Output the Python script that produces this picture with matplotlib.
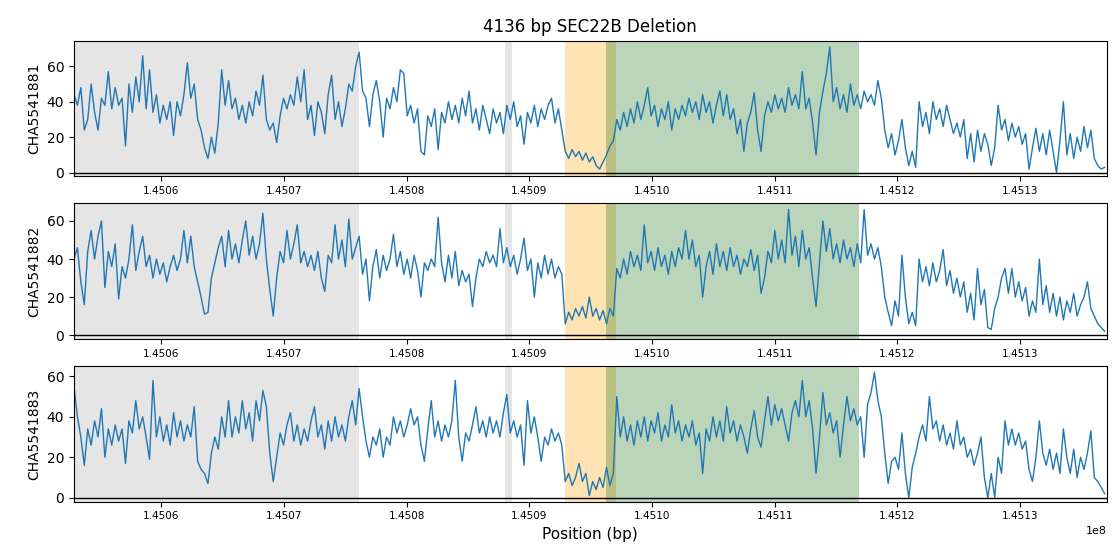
import numpy as np
import matplotlib
matplotlib.use("Agg")
import matplotlib.pyplot as plt

# coverage is binned every 280 bp from the window start
window_start = 145052885
window_end = 145137050
bin_size = 280

samples = ["CHA5541881", "CHA5541882", "CHA5541883"]

depth_1881 = [
    44, 38, 48, 24, 30, 50, 34, 24, 42, 38, 57, 36, 48, 38, 42, 15, 50, 34, 54, 40,
    66, 36, 58, 34, 44, 28, 38, 30, 40, 21, 40, 32, 44, 62, 42, 50, 30, 24, 14, 8,
    20, 11, 28, 58, 38, 52, 36, 42, 30, 38, 28, 40, 32, 46, 38, 55, 30, 24, 28, 17,
    32, 42, 36, 44, 38, 54, 40, 58, 30, 38, 21, 40, 34, 22, 44, 55, 30, 40, 26, 36,
    50, 46, 60, 68, 46, 42, 26, 44, 52, 40, 20, 42, 36, 48, 40, 58, 56, 32, 38, 28,
    36, 12, 10, 32, 26, 36, 13, 34, 28, 40, 30, 38, 28, 42, 32, 46, 28, 36, 24, 38,
    30, 22, 36, 28, 34, 22, 38, 30, 40, 26, 32, 16, 34, 28, 38, 26, 36, 30, 38, 42,
    28, 36, 24, 12, 8, 13, 9, 12, 7, 11, 6, 9, 4, 2, 6, 10, 15, 18, 30, 24,
    34, 26, 36, 28, 40, 30, 38, 48, 32, 38, 26, 36, 30, 40, 24, 36, 30, 38, 32, 42,
    34, 40, 30, 44, 34, 40, 28, 38, 46, 32, 44, 30, 36, 22, 30, 12, 28, 34, 45, 24,
    12, 32, 40, 34, 44, 36, 42, 34, 48, 38, 44, 36, 57, 36, 42, 28, 10, 34, 46, 56,
    71, 40, 48, 36, 44, 34, 50, 38, 44, 36, 46, 40, 44, 38, 52, 42, 24, 14, 22, 10,
    18, 30, 14, 4, 12, 3, 40, 26, 34, 22, 40, 30, 36, 26, 38, 30, 22, 28, 20, 30,
    8, 22, 6, 24, 12, 22, 16, 4, 14, 38, 24, 30, 18, 28, 20, 26, 16, 22, 2, 14,
    25, 12, 22, 10, 24, 12, 0, 18, 40, 10, 22, 8, 20, 12, 26, 14, 24, 8, 4, 2,
    3,
]

depth_1882 = [
    40, 46, 28, 16, 44, 55, 40, 52, 60, 25, 44, 36, 48, 19, 36, 30, 40, 58, 34, 44,
    52, 36, 42, 30, 40, 32, 38, 28, 36, 42, 34, 40, 55, 38, 52, 36, 28, 20, 11, 12,
    30, 38, 46, 52, 36, 55, 40, 48, 38, 50, 60, 42, 52, 40, 48, 64, 40, 24, 10, 30,
    44, 38, 55, 40, 48, 58, 38, 44, 36, 42, 34, 44, 30, 23, 42, 38, 58, 40, 50, 36,
    61, 40, 46, 52, 32, 40, 18, 36, 45, 30, 42, 34, 40, 53, 36, 44, 32, 40, 30, 42,
    34, 20, 38, 34, 40, 36, 62, 38, 28, 42, 30, 44, 26, 34, 28, 32, 15, 30, 40, 36,
    44, 38, 42, 36, 56, 38, 46, 36, 42, 32, 40, 51, 34, 40, 20, 38, 30, 42, 32, 40,
    30, 36, 32, 6, 12, 8, 14, 10, 15, 9, 20, 10, 14, 8, 13, 6, 14, 10, 35, 30,
    40, 32, 44, 36, 42, 34, 58, 38, 44, 34, 46, 36, 42, 32, 44, 36, 46, 40, 55, 40,
    50, 36, 42, 20, 36, 44, 32, 48, 36, 44, 34, 46, 36, 42, 32, 40, 36, 45, 34, 42,
    22, 30, 44, 38, 55, 40, 50, 38, 66, 42, 52, 36, 55, 40, 46, 30, 15, 38, 60, 44,
    56, 40, 48, 38, 50, 40, 46, 36, 48, 38, 66, 42, 48, 40, 46, 36, 20, 12, 5, 18,
    10, 42, 20, 6, 12, 5, 40, 28, 36, 26, 38, 28, 34, 45, 26, 34, 22, 30, 20, 28,
    12, 22, 8, 35, 16, 24, 4, 3, 14, 20, 30, 35, 22, 35, 20, 28, 18, 25, 10, 18,
    12, 40, 16, 26, 12, 22, 10, 20, 8, 18, 12, 22, 10, 16, 20, 28, 14, 10, 6, 4,
    2,
]

depth_1883 = [
    55, 40, 30, 16, 34, 26, 38, 30, 44, 20, 34, 26, 36, 28, 34, 17, 38, 32, 48, 34,
    40, 30, 19, 58, 30, 40, 28, 36, 26, 42, 30, 38, 28, 36, 30, 45, 18, 14, 12, 7,
    22, 30, 24, 40, 30, 48, 30, 40, 32, 48, 34, 42, 28, 48, 38, 53, 45, 22, 8, 20,
    32, 26, 36, 42, 28, 36, 26, 34, 28, 38, 45, 30, 36, 24, 38, 28, 40, 30, 36, 28,
    40, 48, 36, 54, 40, 28, 20, 30, 26, 34, 20, 30, 26, 40, 32, 38, 30, 36, 44, 36,
    40, 26, 18, 34, 48, 30, 38, 28, 36, 30, 38, 58, 30, 18, 32, 28, 36, 45, 32, 38,
    30, 40, 32, 38, 30, 42, 51, 32, 38, 30, 36, 16, 48, 32, 40, 30, 18, 30, 26, 34,
    28, 32, 26, 8, 12, 6, 10, 17, 8, 12, 1, 8, 4, 10, 5, 15, 6, 12, 50, 30,
    40, 28, 36, 26, 38, 30, 40, 28, 38, 32, 42, 28, 36, 30, 46, 32, 38, 28, 36, 30,
    38, 26, 32, 12, 34, 28, 40, 30, 38, 28, 45, 32, 38, 28, 36, 30, 22, 34, 43, 30,
    25, 38, 50, 36, 46, 38, 44, 36, 28, 42, 48, 40, 58, 40, 48, 34, 12, 30, 52, 36,
    42, 32, 38, 20, 36, 50, 38, 44, 36, 40, 20, 46, 52, 62, 48, 40, 22, 7, 18, 20,
    14, 32, 12, 0, 15, 22, 30, 36, 28, 50, 34, 38, 28, 36, 26, 32, 24, 38, 26, 30,
    20, 24, 16, 22, 30, 10, 0, 12, 0, 20, 12, 38, 26, 34, 26, 32, 24, 28, 14, 8,
    20, 38, 22, 16, 24, 14, 22, 12, 34, 20, 12, 24, 10, 20, 14, 22, 33, 10, 8, 5,
    2,
]

# annotated intervals (start, end)
low_map_regions = [(145052885, 145076110), (145088000, 145088560)]
deletion = (145092900, 145097036)
flank = (145096220, 145116860)

depths = [depth_1881, depth_1882, depth_1883]

fig = plt.figure(figsize=(11.14, 5.55), dpi=100)
axes = fig.subplots(3, 1)
fig.subplots_adjust(left=0.0664, right=0.9934, top=0.927, bottom=0.096, hspace=0.2)

for i, (ax, name, depth) in enumerate(zip(axes, samples, depths)):
    depth = np.array(depth, dtype=float)
    pos = window_start + bin_size * np.arange(len(depth))

    for start, end in low_map_regions:
        ax.axvspan(start, end, color="gray", alpha=0.2, lw=0, zorder=0)
    ax.axvspan(deletion[0], deletion[1], color="orange", alpha=0.3, lw=0, zorder=0)
    ax.axvspan(flank[0], flank[1], color="darkgreen", alpha=0.27, lw=0, zorder=0)

    ax.plot(pos, depth, color="tab:blue", lw=1.0, zorder=2)
    ax.axhline(0, color="black", lw=1.0, zorder=3)

    ax.set_xlim(window_start, window_end)
    ax.set_ylim(-2, depth.max() * 1.05)
    ax.set_yticks([0, 20, 40, 60])
    ax.set_ylabel(name, fontsize=10)
    ax.tick_params(axis="y", labelsize=10)
    ax.tick_params(axis="x", labelsize=7.5)
    ax.ticklabel_format(axis="x", useOffset=False, style="sci", scilimits=(0, 0))
    ax.xaxis.get_offset_text().set_fontsize(8)
    if i < 2:
        ax.xaxis.get_offset_text().set_visible(False)

axes[0].set_title("4136 bp SEC22B Deletion", fontsize=12)
axes[-1].set_xlabel("Position (bp)", fontsize=11)

fig.savefig("out.png", dpi=100)
